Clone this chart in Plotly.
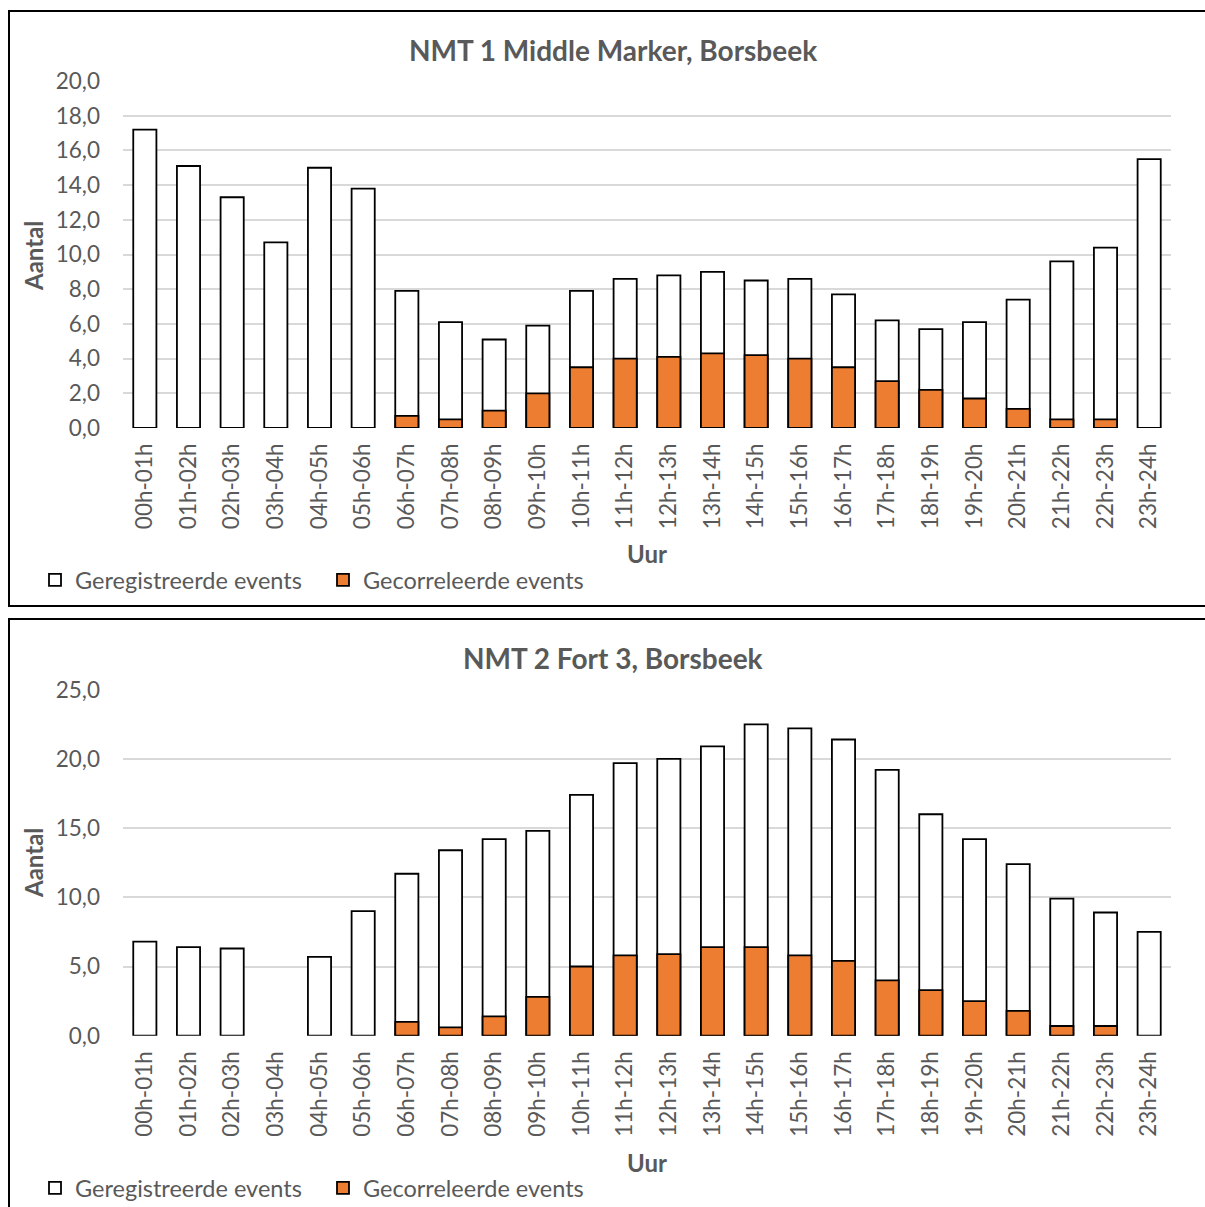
import plotly.graph_objects as go

hours = ["00h-01h", "01h-02h", "02h-03h", "03h-04h", "04h-05h", "05h-06h",
         "06h-07h", "07h-08h", "08h-09h", "09h-10h", "10h-11h", "11h-12h",
         "12h-13h", "13h-14h", "14h-15h", "15h-16h", "16h-17h", "17h-18h",
         "18h-19h", "19h-20h", "20h-21h", "21h-22h", "22h-23h", "23h-24h"]

nmt1_geregistreerd = [17.2, 15.1, 13.3, 10.7, 15.0, 13.8, 7.9, 6.1, 5.1, 5.9, 7.9, 8.6,
                      8.8, 9.0, 8.5, 8.6, 7.7, 6.2, 5.7, 6.1, 7.4, 9.6, 10.4, 15.5]
nmt1_gecorreleerd = [0, 0, 0, 0, 0, 0, 0.7, 0.5, 1.0, 2.0, 3.5, 4.0,
                     4.1, 4.3, 4.2, 4.0, 3.5, 2.7, 2.2, 1.7, 1.1, 0.5, 0.5, 0]

nmt2_geregistreerd = [6.8, 6.4, 6.3, 0, 5.7, 9.0, 11.7, 13.4, 14.2, 14.8, 17.4, 19.7,
                      20.0, 20.9, 22.5, 22.2, 21.4, 19.2, 16.0, 14.2, 12.4, 9.9, 8.9, 7.5]
nmt2_gecorreleerd = [0, 0, 0, 0, 0, 0, 1.0, 0.6, 1.4, 2.8, 5.0, 5.8,
                     5.9, 6.4, 6.4, 5.8, 5.4, 4.0, 3.3, 2.5, 1.8, 0.7, 0.7, 0]

titles = ["NMT 1 Middle Marker, Borsbeek", "NMT 2 Fort 3, Borsbeek"]
name_reg = "Geregistreerde events"
name_cor = "Gecorreleerde events"

W, H = 1205, 1207
FONT = "Lato"
GREY = "#595959"
ORANGE = "#ED7D31"


def px(x):
    return x / W


def py(y):
    return 1 - y / H


def hide_zero(vals):
    # zero-height bars are not drawn in the original chart
    return [v if v else None for v in vals]


fig = go.Figure()

panels = [
    dict(reg=nmt1_geregistreerd, cor=nmt1_gecorreleerd, xa="x", ya="y", legend="legend",
         top=81, bottom=428, ymax=20, dtick=2, title_y=50, ytitle_y=256, xtitle_y=553,
         legend_y=580),
    dict(reg=nmt2_geregistreerd, cor=nmt2_gecorreleerd, xa="x2", ya="y2", legend="legend2",
         top=689.7, bottom=1035.7, ymax=25, dtick=5, title_y=658, ytitle_y=863, xtitle_y=1162,
         legend_y=1188),
]

annotations = []
shapes = []
layout_extra = {}

for i, p in enumerate(panels):
    fig.add_trace(go.Bar(x=hours, y=hide_zero(p["reg"]), name=name_reg,
                         xaxis=p["xa"], yaxis=p["ya"],
                         marker=dict(color="white", line=dict(color="black", width=1.8)),
                         legend=p["legend"]))
    fig.add_trace(go.Bar(x=hours, y=hide_zero(p["cor"]), name=name_cor,
                         xaxis=p["xa"], yaxis=p["ya"],
                         marker=dict(color=ORANGE, line=dict(color="black", width=1.8)),
                         legend=p["legend"]))
    sfx = "" if i == 0 else "2"
    layout_extra["xaxis" + sfx] = dict(
        domain=[px(123), px(1171)], anchor="y" + sfx, type="category",
        tickangle=-90, tickfont=dict(family=FONT, size=22.5, color=GREY),
        showline=False, showgrid=False, ticks="", ticklabelstandoff=10,
        automargin=False, fixedrange=True)
    layout_extra["yaxis" + sfx] = dict(
        domain=[py(p["bottom"]), py(p["top"])], anchor="x" + sfx,
        range=[0, p["ymax"]], dtick=p["dtick"], tickformat=".1f",
        tickfont=dict(family=FONT, size=22.5, color=GREY),
        showgrid=True, gridcolor="#d9d9d9", gridwidth=1.5, zeroline=False,
        showline=False, ticks="", ticklabelstandoff=22, automargin=False,
        fixedrange=True)
    layout_extra[p["legend"]] = dict(
        orientation="h", x=px(35), xanchor="left", y=py(p["legend_y"]), yanchor="middle",
        font=dict(family=FONT, size=23.5, color=GREY), bgcolor="rgba(0,0,0,0)",
        itemwidth=30, entrywidth=243, entrywidthmode="pixels", traceorder="normal")
    annotations.append(dict(text="<b>" + titles[i] + "</b>", x=px(612.5), y=py(p["title_y"]),
                            xref="paper", yref="paper", showarrow=False,
                            xanchor="center", yanchor="middle",
                            font=dict(family=FONT, size=28, color=GREY)))
    annotations.append(dict(text="<b>Aantal</b>", x=px(33), y=py(p["ytitle_y"]),
                            xref="paper", yref="paper", showarrow=False, textangle=-90,
                            xanchor="center", yanchor="middle",
                            font=dict(family=FONT, size=24, color=GREY)))
    annotations.append(dict(text="<b>Uur</b>", x=px(647), y=py(p["xtitle_y"]),
                            xref="paper", yref="paper", showarrow=False,
                            xanchor="center", yanchor="middle",
                            font=dict(family=FONT, size=24, color=GREY)))

# chart frames
shapes.append(dict(type="rect", xref="paper", yref="paper", x0=px(9), x1=px(1215),
                   y0=py(606), y1=py(11), line=dict(color="black", width=2)))
shapes.append(dict(type="rect", xref="paper", yref="paper", x0=px(9), x1=px(1215),
                   y0=py(1220), y1=py(619), line=dict(color="black", width=2)))

fig.update_layout(
    width=W, height=H, autosize=False,
    margin=dict(l=0, r=0, t=0, b=0, pad=0, autoexpand=False),
    paper_bgcolor="white", plot_bgcolor="white",
    barmode="overlay", bargap=0.47,
    separators=",.",
    annotations=annotations, shapes=shapes,
    font=dict(family=FONT, color=GREY),
    **layout_extra,
)

fig.write_html("out.html", config={"displayModeBar": False},
               post_script="document.body.style.margin='0';")
